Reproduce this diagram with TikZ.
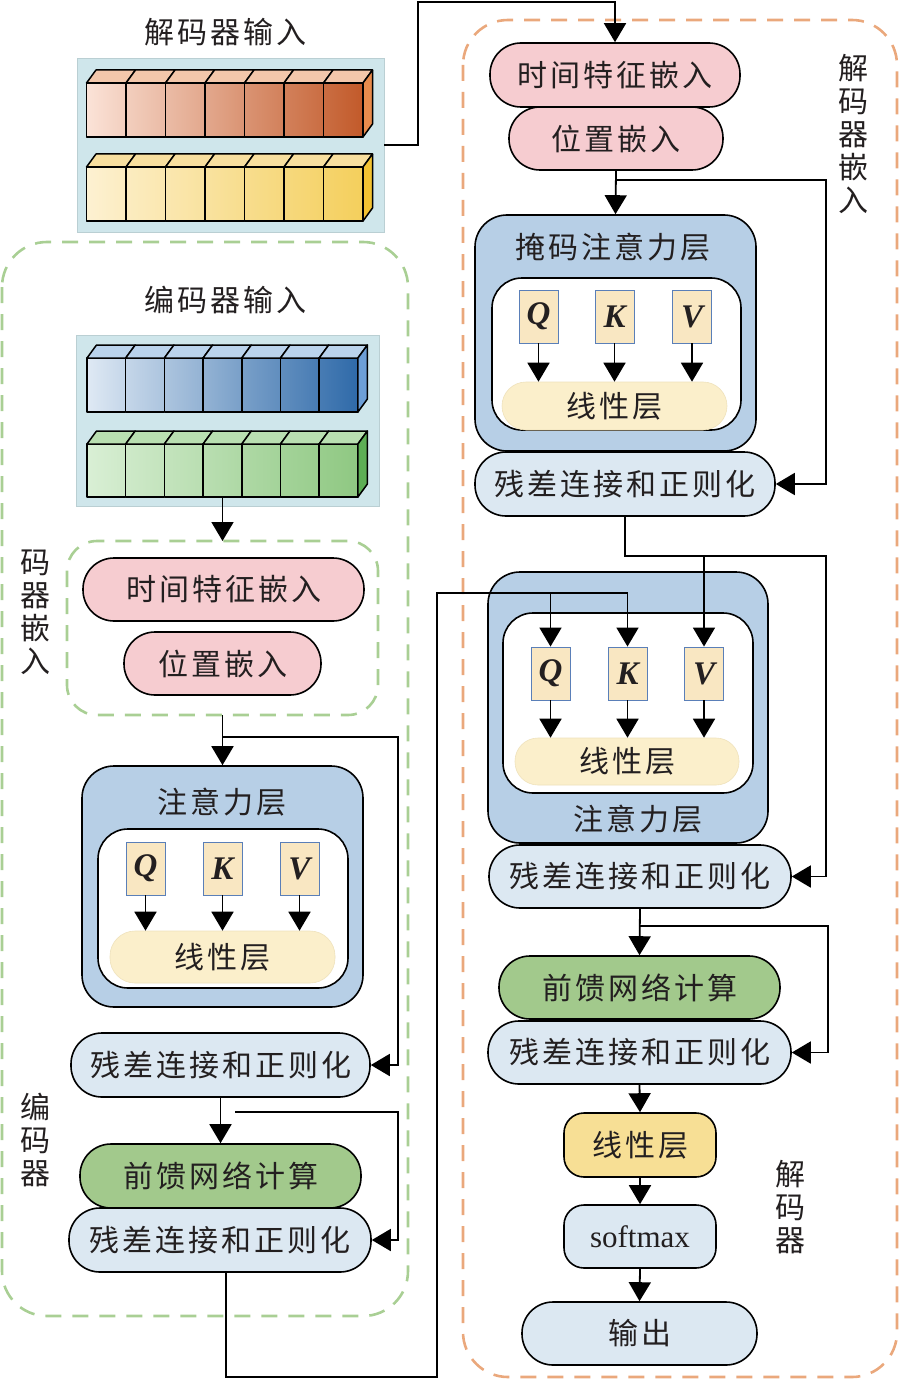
\documentclass[tikz,border=0pt]{standalone}
\usepackage{fontspec}
\setmainfont{Liberation Serif}
\newfontfamily\cjk{Noto Sans CJK SC}[LetterSpace=10]
\usetikzlibrary{arrows.meta,calc}
\definecolor{txt}{HTML}{231F20}
\definecolor{pinkf}{HTML}{F6CCD0}
\definecolor{resf}{HTML}{DCE8F2}
\definecolor{attf}{HTML}{B7CFE6}
\definecolor{qkvf}{HTML}{F9E7C2}
\definecolor{qkvb}{HTML}{5A7FB8}
\definecolor{linf}{HTML}{FBEFCB}
\definecolor{linb}{HTML}{EFE2BC}
\definecolor{ffnf}{HTML}{A2C98C}
\definecolor{ylinf}{HTML}{F7DF95}
\definecolor{panelf}{HTML}{CFE6EB}
\definecolor{gdash}{HTML}{A9CF94}
\definecolor{odash}{HTML}{EAA87C}
% cube colours
\definecolor{pkA}{HTML}{FBE3D8}\definecolor{pkB}{HTML}{C25A2A}\definecolor{pkT}{HTML}{F3C7AB}\definecolor{pkS}{HTML}{E88B4D}
\definecolor{ywA}{HTML}{FDF1D2}\definecolor{ywB}{HTML}{F4CF5C}\definecolor{ywT}{HTML}{F8DF9F}\definecolor{ywS}{HTML}{F3C232}
\definecolor{blA}{HTML}{DFE9F4}\definecolor{blB}{HTML}{2F6AA9}\definecolor{blT}{HTML}{BAD3EC}\definecolor{blS}{HTML}{6D9FD7}
\definecolor{gnA}{HTML}{D9EFD5}\definecolor{gnB}{HTML}{8FC882}\definecolor{gnT}{HTML}{B9DFB1}\definecolor{gnS}{HTML}{5DAE55}
\newcommand{\cjkfs}{\cjk\fontsize{30pt}{33pt}\selectfont}
\newcommand{\latfs}{\fontsize{31pt}{33pt}\selectfont}
\newcommand{\qkvfs}{\fontsize{33pt}{33pt}\selectfont\bfseries\itshape}
% #1 x0, #2 ytop, #3 ybottom, #4 cube width, #5 light, #6 dark, #7 top, #8 side
\newcommand{\cuberow}[8]{%
  \foreach \i in {0,...,6}{%
    \pgfmathsetmacro{\xa}{#1+\i*#4}%
    \pgfmathsetmacro{\xb}{#1+(\i+1)*#4}%
    \pgfmathtruncatemacro{\pa}{100-\i*100/7}%
    \pgfmathtruncatemacro{\pb}{100-(\i+1)*100/7}%
    \draw[line width=1.5pt, line join=round, left color=#5!\pa!#6, right color=#5!\pb!#6] (\xa,#2) rectangle (\xb,#3);
    \draw[line width=1.5pt, line join=round, fill=#7] (\xa,#2) -- ++(9.5,-13) -- (\xb+9.5,#2-13) -- (\xb,#2) -- cycle;
  }%
  \pgfmathsetmacro{\xe}{#1+7*#4}%
  \draw[line width=1.5pt, line join=round, fill=#8] (\xe,#2) -- ++(9.5,-13) -- (\xe+9.5,#3-13) -- (\xe,#3) -- cycle;
}
\begin{document}
\begin{tikzpicture}[x=1pt,y=-1pt,
  sz/.style 2 args={minimum width=#1pt, minimum height=#2pt},
  base/.style={draw=black, line width=1.6pt, inner sep=0pt, font=\cjkfs, text=txt},
  pillbox/.style={base, rounded corners=31pt},
  softbox/.style={base, rounded corners=20pt},
  bigbox/.style={base, fill=attf, rounded corners=32pt},
  innerbox/.style={base, fill=white, rounded corners=30pt},
  qkv/.style={draw=qkvb, line width=0.9pt, fill=qkvf, sz={39}{53}, inner sep=0pt, font=\qkvfs, text=txt},
  linbox/.style={draw=linb, line width=0.6pt, fill=linf, inner sep=0pt, font=\cjkfs, text=txt},
  lbl/.style={inner sep=0pt, font=\cjkfs, text=txt},
  vlbl/.style={inner sep=0pt, font=\cjkfs, text=txt, align=center},
  panelbox/.style={fill=panelf, draw=panelf!90!black, line width=0.4pt, inner sep=0pt},
  region/.style={dash pattern=on 16pt off 11pt, line width=2.6pt, rounded corners=45pt},
  ln/.style={line width=1.8pt},
  arr/.style={line width=1.8pt, -{Triangle[width=22pt,length=19pt]}}
]
\useasboundingbox (0,0) rectangle (901,1380);

% ---------- dashed regions ----------
\draw[region, draw=gdash] (2,242) rectangle (408,1316);
\draw[region, draw=odash] (463,20) rectangle (897,1377);
\draw[region, draw=gdash, rounded corners=30pt] (67,541) rectangle (378,715);
\coordinate (eembN) at (222.5,541);
\coordinate (eembS) at (222.5,715);

% ---------- decoder input ----------
\node[lbl] (dtitle) at (225,32) {解码器输入};
\node[panelbox, sz={307}{174}] (dpanel) at (230.5,145) {};
\cuberow{86.5}{83}{137}{39.5}{pkA}{pkB}{pkT}{pkS}
\cuberow{86.5}{167}{221}{39.5}{ywA}{ywB}{ywT}{ywS}

% ---------- encoder input ----------
\node[lbl] (etitle) at (225,300) {编码器输入};
\node[panelbox, sz={303}{171}] (epanel) at (227.5,420.5) {};
\cuberow{87}{358}{412}{38.7}{blA}{blB}{blT}{blS}
\cuberow{87}{444}{497}{38.7}{gnA}{gnB}{gnT}{gnS}
\coordinate (ecb) at (222.5,497);

% ---------- vertical labels ----------
\node[vlbl] (l1) at (853,134) {解\\码\\器\\嵌\\入};
\node[vlbl] (l2) at (35,612) {码\\器\\嵌\\入};
\node[vlbl] (l3) at (35,1140) {编\\码\\器};
\node[vlbl] (l4) at (790,1207) {解\\码\\器};

% ---------- decoder embedding ----------
\node[pillbox, fill=pinkf, sz={250}{64}] (dte) at (615,75) {时间特征嵌入};
\node[pillbox, fill=pinkf, sz={214}{63}] (dpe) at (616,138.5) {位置嵌入};

% ---------- masked attention ----------
\node[bigbox, sz={281}{236}] (datt) at (615.5,333) {};
\node[lbl] (dattT) at (613,247) {掩码注意力层};
\node[innerbox, sz={249}{152}] (dinner) at (616.5,354) {};
\node[qkv] (dq) at (538.5,316.5) {Q};
\node[qkv] (dk) at (614.5,316.5) {K};
\node[qkv] (dv) at (692,316.5) {V};
\node[linbox, rounded corners=24pt, sz={225}{48}] (dlin1) at (614.5,406) {线性层};
\node[pillbox, fill=resf, sz={300}{64}] (dres1) at (625,484) {残差连接和正则化};

% ---------- cross attention ----------
\node[bigbox, sz={280}{271}] (catt) at (628,707.5) {};
\node[innerbox, sz={250}{180}] (cinner) at (628,703) {};
\node[qkv] (cq) at (550.5,673.5) {Q};
\node[qkv] (ck) at (627.5,673.5) {K};
\node[qkv] (cv) at (704,673.5) {V};
\node[linbox, rounded corners=23pt, sz={224}{47}] (clin) at (627,761.5) {线性层};
\node[lbl] (cattT) at (638,819) {注意力层};
\node[pillbox, fill=resf, sz={302}{63}] (dres2) at (640,876.5) {残差连接和正则化};

% ---------- decoder ffn and output ----------
\node[pillbox, fill=ffnf, sz={281}{63}] (dffn) at (639.5,987.5) {前馈网络计算};
\node[pillbox, fill=resf, sz={303}{63}] (dres3) at (639.5,1052.5) {残差连接和正则化};
\node[softbox, fill=ylinf, sz={152}{64}] (dlin) at (640,1145) {线性层};
\node[softbox, fill=resf, sz={152}{63}, font=\latfs] (dsm) at (640,1236.5) {softmax};
\node[pillbox, fill=resf, sz={235}{63}] (dout) at (639.5,1333.5) {输出};

% ---------- encoder embedding ----------
\node[pillbox, fill=pinkf, sz={281}{63}] (ete) at (223.5,589.5) {时间特征嵌入};
\node[pillbox, fill=pinkf, sz={197}{63}] (epe) at (222.5,663.5) {位置嵌入};

% ---------- encoder attention ----------
\node[bigbox, sz={281}{241}] (eatt) at (222.5,886.5) {};
\node[lbl] (eattT) at (222,802) {注意力层};
\node[innerbox, sz={250}{159}] (einner) at (223,908.5) {};
\node[qkv] (eq) at (145.5,868.5) {Q};
\node[qkv] (ek) at (222.5,868.5) {K};
\node[qkv] (ev) at (299.5,868.5) {V};
\node[linbox, rounded corners=25pt, sz={225}{52}] (elin) at (222.5,957) {线性层};
\node[pillbox, fill=resf, sz={299}{64}] (eres1) at (220.5,1065) {残差连接和正则化};
\node[pillbox, fill=ffnf, sz={281}{64}] (effn) at (220.5,1176) {前馈网络计算};
\node[pillbox, fill=resf, sz={302}{64}] (eres2) at (220,1240) {残差连接和正则化};

% ---------- connectors: decoder ----------
\coordinate (c1) at (418,2);
\draw[arr] (dpanel.east) -| (c1) -| (dte.north);
\draw[arr] (dpe.south) -- (datt.north);
\coordinate (b1) at (826,180);
\draw[arr] (dpe.south |- b1) -- (b1) |- (dres1.east);
\foreach \n in {dq,dk,dv}{\draw[arr] (\n.south) -- (\n.south |- dlin1.north);}
\coordinate (b2) at (826,556);
\draw[arr] (dres1.south) |- (b2) |- (dres2.east);
\draw[arr] (cv.north |- b2) -- (cv.north);
\foreach \n in {cq,ck,cv}{\draw[arr] (\n.south) -- (\n.south |- clin.north);}
\draw[arr] (dres2.south) -- (dffn.north);
\coordinate (b5) at (828,926);
\draw[arr] (dres2.south |- b5) -- (b5) |- (dres3.east);
\draw[arr] (dres3.south) -- (dlin.north);
\draw[arr] (dlin.south) -- (dsm.north);
\draw[arr] (dsm.south) -- (dout.north);

% ---------- connectors: encoder ----------
\draw[arr] (ecb) -- (eembN);
\draw[arr] (eembS) -- (eatt.north);
\coordinate (b6) at (398,737);
\draw[arr] (eembS |- b6) -- (b6) |- (eres1.east);
\foreach \n in {eq,ek,ev}{\draw[arr] (\n.south) -- (\n.south |- elin.north);}
\draw[arr] (eres1.south) -- (effn.north);
\coordinate (b7) at (398,1112);
\coordinate (b7s) at (235,1112);
\draw[arr] (b7s) -- (b7) |- (eres2.east);
\coordinate (b3) at (437,1377);
\coordinate (b4) at (437,593);
\draw[arr] ($(eres2.south)+(6,0)$) |- (b3) -- (b4) -| (ck.north);
\draw[arr] (cq.north |- b4) -- (cq.north);
\end{tikzpicture}
\end{document}
